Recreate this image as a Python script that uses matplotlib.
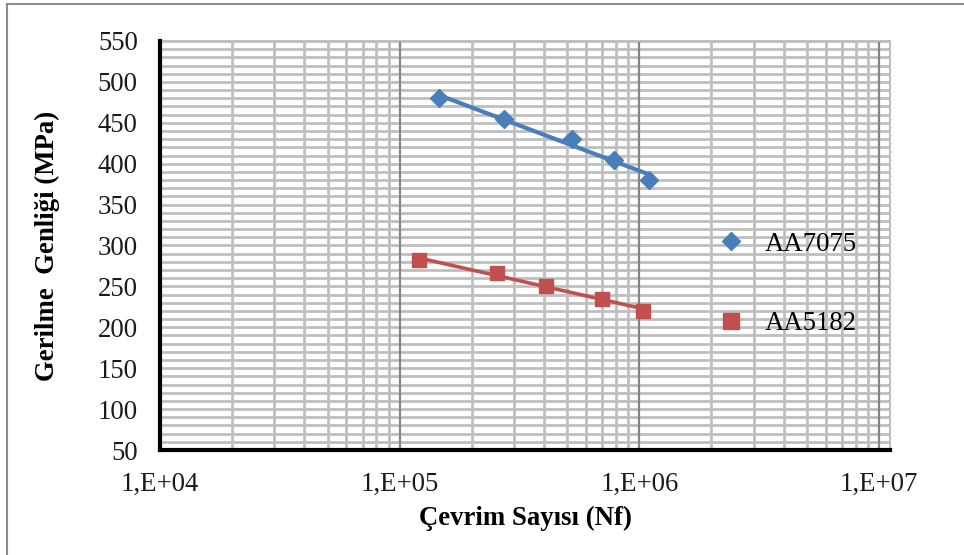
import numpy as np
import matplotlib
matplotlib.use("Agg")
import matplotlib.pyplot as plt
from matplotlib.ticker import FixedLocator, FuncFormatter, NullLocator
from matplotlib.lines import Line2D
from matplotlib.patches import Rectangle

# Fatigue test data: cycles to failure vs. stress amplitude
cycles_7075 = [1.46e5, 2.72e5, 5.24e5, 7.84e5, 1.10e6]
stress_7075 = [480, 455, 430, 405, 380]
cycles_5182 = [1.21e5, 2.55e5, 4.07e5, 6.98e5, 1.04e6]
stress_5182 = [282, 266, 251, 235, 220]
series_names = ["AA7075", "AA5182"]
x_ticks = [1e4, 1e5, 1e6, 1e7]
y_ticks = [50, 100, 150, 200, 250, 300, 350, 400, 450, 500, 550]

plt.rcParams["font.family"] = ["Liberation Serif", "DejaVu Serif"]
FS = 19.3

fig = plt.figure(figsize=(9.64, 5.55), dpi=100)
W, H = 964, 555
ax = fig.add_axes([160 / W, (H - 450) / H, (890 - 160) / W, (450 - 41) / H])

ax.set_xscale("log")
ax.set_xlim(1e4, 10 ** 7.046)
ax.set_ylim(50, 550)

# grid: minor log lines + every 10 MPa horizontally
grid_c = "#bfbfbf"
minor_x = [m * 10 ** d for d in range(4, 7) for m in range(2, 10)]
for xv in minor_x:
    ax.axvline(xv, color=grid_c, lw=2.0, zorder=0)
for yv in range(50, 551, 10):
    ax.axhline(yv, color=grid_c, lw=2.0, zorder=0)
for xv in x_ticks[1:]:
    ax.axvline(xv, color="#858585", lw=1.6, zorder=0.5)

blue = "#4a7ebb"
red = "#c0504d"

# logarithmic trendlines through each series
for xs, ys, col, lw in [(cycles_7075, stress_7075, blue, 3.0),
                        (cycles_5182, stress_5182, red, 2.6)]:
    lx = np.log10(xs)
    k, b = np.polyfit(lx, ys, 1)
    xx = np.array([min(lx), max(lx)])
    ax.plot(10 ** xx, k * xx + b, color=col, lw=lw, zorder=2, solid_capstyle="butt")

ax.plot(cycles_7075, stress_7075, linestyle="none", marker="D", ms=9.5,
        color=blue, zorder=3)
ax.plot(cycles_5182, stress_5182, linestyle="none", marker="s", ms=10.5,
        color=red, zorder=3)

ax.xaxis.set_major_locator(FixedLocator(x_ticks))
ax.xaxis.set_minor_locator(NullLocator())
ax.xaxis.set_major_formatter(FuncFormatter(lambda v, p: "1,E+%02d" % round(np.log10(v))))
ax.yaxis.set_major_locator(FixedLocator(y_ticks))
ax.yaxis.set_minor_locator(NullLocator())
ax.tick_params(axis="both", length=0, labelsize=FS, colors="#1a1a1a")
ax.tick_params(axis="x", pad=16)
ax.tick_params(axis="y", pad=16)

for side in ["top", "right"]:
    ax.spines[side].set_color(grid_c)
    ax.spines[side].set_linewidth(1.5)
for side in ["left", "bottom"]:
    ax.spines[side].set_color("black")
    ax.spines[side].set_linewidth(3.0)
    ax.spines[side].set_zorder(4)

ax.set_xlabel("Çevrim Sayısı (Nf)", fontsize=FS, fontweight="bold", labelpad=6)
ax.set_ylabel("Gerilme  Genliği (MPa)", fontsize=FS, fontweight="bold", labelpad=27)

handles = [Line2D([], [], linestyle="none", marker="D", ms=9, color=blue),
           Line2D([], [], linestyle="none", marker="s", ms=11, color=red)]
ax.legend(handles, series_names, loc="center left",
          bbox_to_anchor=((717.6 - 160) / (890 - 160), (450 - 284) / (450 - 41)),
          frameon=False, fontsize=FS, labelspacing=2.03, handletextpad=0.77,
          handlelength=1.0, borderpad=0, borderaxespad=0)

# outer chart border
fig.patches.append(Rectangle((7 / W, -0.05), 1.2, (H - 4) / H + 0.05,
                             transform=fig.transFigure, fill=False,
                             edgecolor="#8c8c8c", lw=1.5))

fig.savefig("out.png", dpi=100)
